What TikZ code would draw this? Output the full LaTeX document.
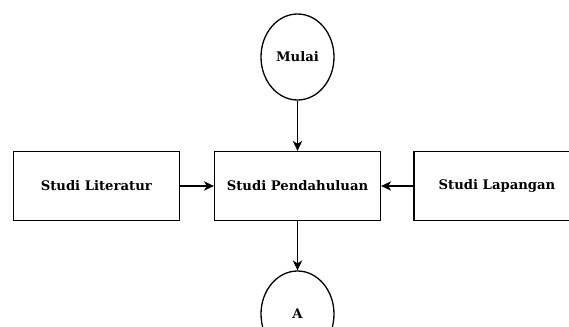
\documentclass[tikz,border=0pt]{standalone}
\usepackage{fontspec}
\setmainfont{DejaVu Serif}
\usetikzlibrary{arrows.meta,shapes.geometric}
\begin{document}
\begin{tikzpicture}[x=1pt,y=-1pt,
  box/.style={draw,line width=1.3pt,minimum width=166pt,minimum height=69pt,inner sep=0pt,font=\bfseries\fontsize{13.2}{15}\selectfont},
  term/.style={draw,ellipse,line width=1.3pt,minimum width=73pt,minimum height=86pt,inner sep=0pt,font=\bfseries\fontsize{13.2}{15}\selectfont},
  conn/.style={line width=1.1pt,-{Stealth[length=10pt,width=9.5pt,inset=3pt]}}]
\useasboundingbox (0,0) rectangle (569,326);
\node[term] (mulai) at (297.5,57) {Mulai};
\node[box] (pend) at (297.5,186) {Studi Pendahuluan};
\node[box] (lit) at (96.3,186) {Studi Literatur};
\node[box] (lap) at (497,186) {Studi Lapangan};
\node[term] (a) at (297.5,314) {A};
\draw[conn] (mulai) -- (pend);
\draw[conn] (lit) -- (pend);
\draw[conn] (lap) -- (pend);
\draw[conn] (pend) -- (a);
\end{tikzpicture}
\end{document}
